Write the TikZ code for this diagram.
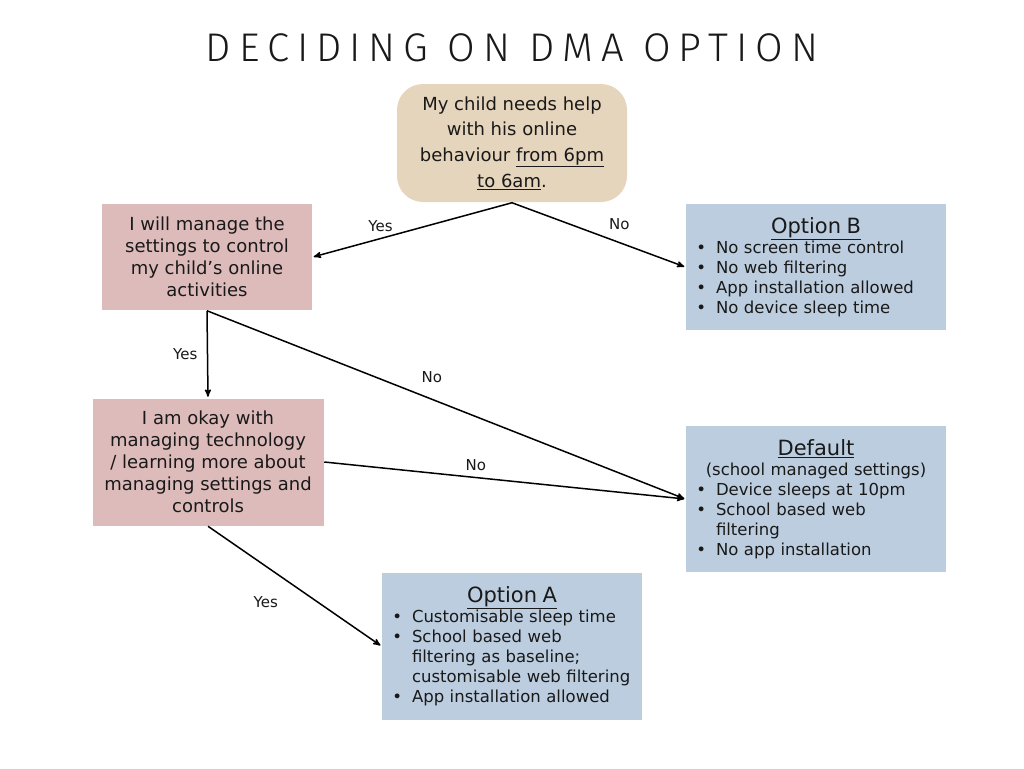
\documentclass[tikz,border=0pt]{standalone}
\usepackage{fontspec}
\usepackage{enumitem}
\setmainfont{DejaVu Sans}
\newfontfamily\titlefont[LetterSpace=20]{Fira Sans Light}
\usetikzlibrary{arrows,positioning}

\definecolor{qbeige}{HTML}{E6D5BD}
\definecolor{qpink}{HTML}{DDBBBB}
\definecolor{qblue}{HTML}{BCCDDF}
\setlist[itemize]{nosep,leftmargin=22pt,labelsep=10pt,label=\textbullet}

\begin{document}
\begin{tikzpicture}[x=1pt,y=-1pt,->,>=stealth',shorten >=1pt,line width=1.5pt,
                    every node/.style={font=\fontsize{16.5}{20}\selectfont,text=black!90}]
  \tikzstyle{question}=[rectangle,rounded corners=26pt,fill=qbeige,draw=none,
                        minimum width=230pt,minimum height=118pt,align=center,
                        font=\fontsize{18}{25.6}\selectfont]
  \tikzstyle{choice}=[rectangle,fill=qpink,draw=none,align=center,
                      font=\fontsize{18}{22}\selectfont]
  \tikzstyle{option}=[rectangle,fill=qblue,draw=none,minimum width=260pt,
                      text width=244pt,inner sep=8pt]
  \tikzstyle{answer}=[font=\fontsize{15}{17}\selectfont]
  \newcommand{\opthead}[1]{{\centering\fontsize{21}{22}\selectfont\underline{#1}\par}}

  \useasboundingbox (0,0) rectangle (1024,768);
  \fill[white] (0,0) rectangle (1024,768);

  \node (title) at (512,48) {\titlefont\fontsize{40}{42}\selectfont DECIDING ON DMA OPTION};

  \node[question] (need) at (512,143)
       {My child needs help\\with his online\\behaviour \underline{from 6pm}\\\underline{to 6am}.};
  \node[choice,minimum width=210pt,minimum height=106pt] (manage) at (207,257)
       {I will manage the\\settings to control\\my child's online\\activities};
  \node[choice,minimum width=231pt,minimum height=127pt] (okay) at (208,462)
       {I am okay with\\managing technology\\/ learning more about\\managing settings and\\controls};

  \node[option,minimum height=126pt] (optB) at (816,267)
       {\opthead{Option B}
        \begin{itemize}
          \item No screen time control
          \item No web filtering
          \item App installation allowed
          \item No device sleep time
        \end{itemize}};
  \node[option,minimum height=146pt] (default) at (816,499)
       {\opthead{Default}
        {\centering(school managed settings)\par}
        \begin{itemize}
          \item Device sleeps at 10pm
          \item School based web\\filtering
          \item No app installation
        \end{itemize}};
  \node[option,minimum height=147pt] (optA) at (512,646)
       {\opthead{Option A}
        \begin{itemize}
          \item Customisable sleep time
          \item School based web\\filtering as baseline;\\customisable web filtering
          \item App installation allowed
        \end{itemize}};

  \path (need.south)   edge node[answer,pos=0.66,above=3pt] {Yes} (manage.east)
        (need.south)   edge node[answer,pos=0.62,above=9pt] {No}  (optB.west)
        (manage.south) edge node[answer,left=6pt]            {Yes} (okay.north)
        (manage.south) edge node[answer,pos=0.47,above=12pt] {No}  (default.west)
        (okay.east)    edge node[answer,pos=0.42,above=3pt]  {No}  (default.west)
        (okay.south)   edge node[answer,pos=0.48,below left=13pt] {Yes} (optA.west);
\end{tikzpicture}
\end{document}
